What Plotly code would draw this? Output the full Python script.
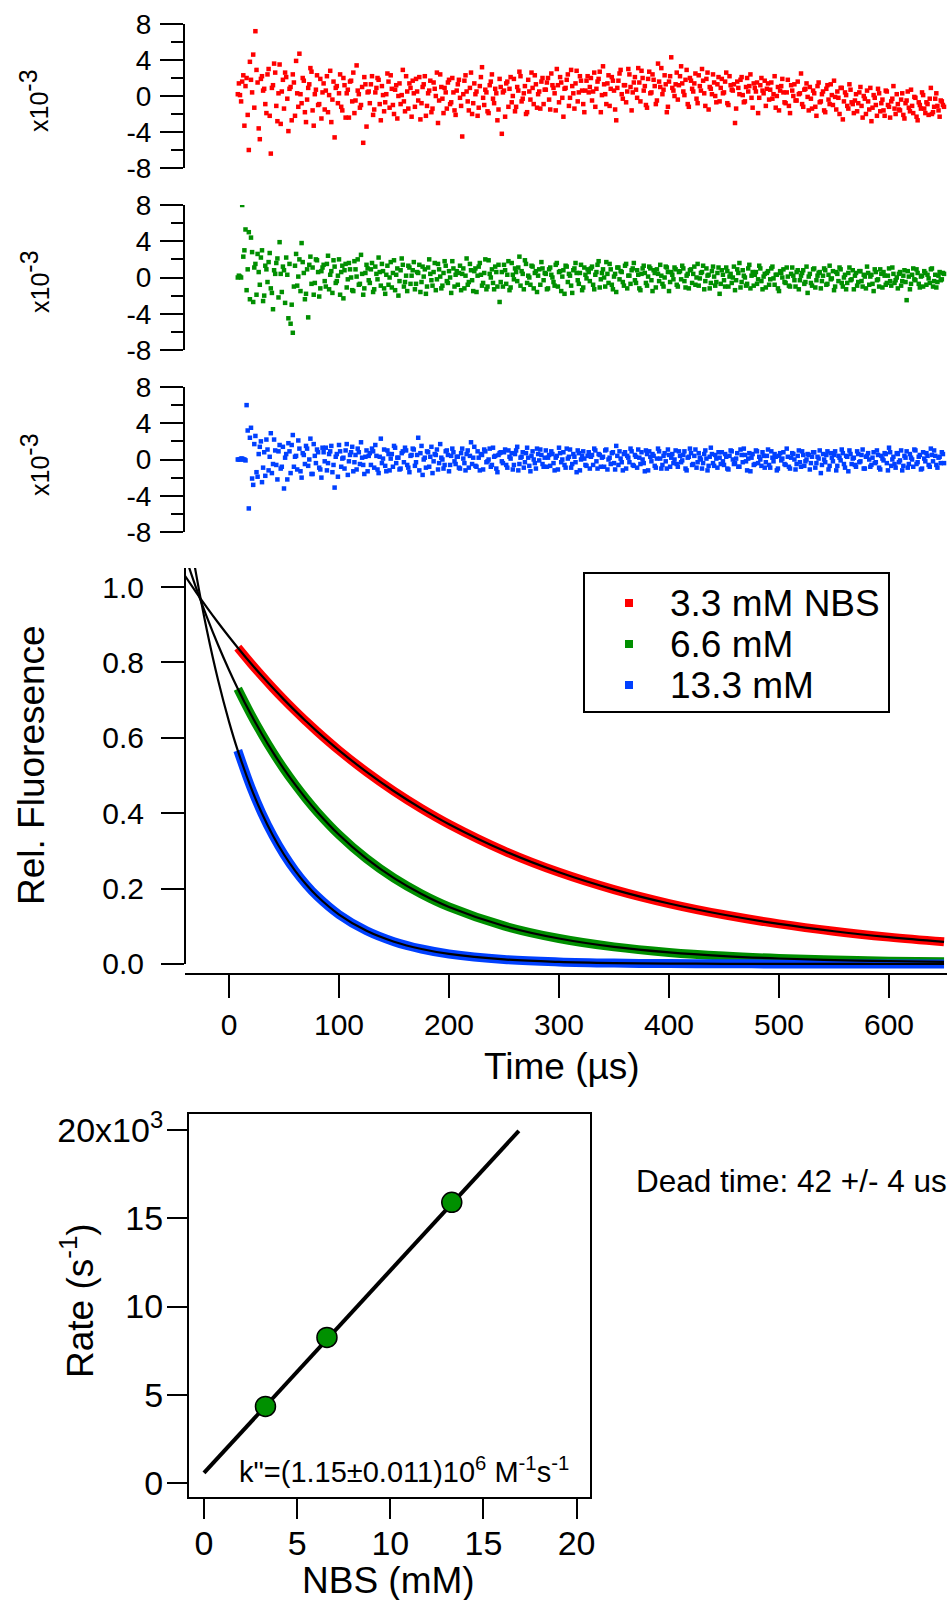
import plotly.graph_objects as go

W, H = 947, 1600
FONT = "Liberation Sans, Arial, sans-serif"

# ---------------- data ----------------
# residuals (units of 1e-3); "even" samples at 8,10,12,... us, "odd" samples at 9,11,13,... us
res_t0_even = 8
res_t0_odd = 9
res_dt = 2
res_red_even = [
    0.2, 0.1, 1.6, -3.3, 2.0, -6.0, 1.8, 4.6, 7.2, 1.5, -4.8, 2.2, 0.8, -1.9, 3.0, -6.4, 1.2, 2.6, -2.8, 3.5,
    0.5, -1.4, 2.1, -3.9, 1.0, 2.4, -2.2, 0.3, 4.7, -0.8, 1.7, -2.9, 0.9, 3.1, -1.6, 0.2, 2.3, -0.9, -2.5, 1.4,
    0.6, -1.8, 2.8, -0.4, -4.6, 1.1, 0.3, -1.2, 2.0, -2.4, 0.7, 1.6, -0.6, -1.9, 3.4, 0.2, -1.0, -5.2, 1.3, 0.4,
    -0.8, 2.2, -1.5, 0.9, 1.8, -2.7, 0.1, -0.7, 2.5, -1.3, 0.8, -2.0, 1.2, 0.0, -0.9, 2.9, -1.7, 0.5, 1.4, -2.3,
    0.3, 1.9, -0.5, -2.6, 1.0, 2.2, -1.1, 0.6, -1.8, 1.5, 0.0, -3.0, 2.4, -0.3, 0.9, -1.4, 1.8, -0.7, 0.4, -2.1,
    1.3, -0.2, -4.5, 1.7, 0.5, -1.6, 2.6, -0.8, 0.2, -2.2, 1.1, 3.2, -1.0, 0.4, -1.9, 1.6, -0.3, 0.8, -2.7, 1.9,
    -4.2, 0.6, 1.4, -1.2, 2.1, 0.0, -1.7, 1.0, 2.7, -0.6, 0.3, -2.0, 1.8, -0.4, 0.9, 2.3, -1.3, 0.5, 1.6, -0.9,
    0.7, 2.0, -1.5, 1.2, 0.3, 3.0, -0.7, 1.5, -2.3, 0.9, 2.4, -0.2, 1.1, -1.4, 2.8, 0.4, 1.7, -0.9, 0.6, 2.2,
    1.0, -0.5, 2.6, 0.8, 1.9, -1.8, 3.3, 0.2, 1.4, -1.1, 2.1, 0.6, -2.7, 1.7, 2.9, -0.3, 1.2, 0.5, 2.4, -1.6,
    1.5, 0.7, 3.1, -0.6, 2.0, 1.1, -1.3, 2.7, 0.4, 1.8, -0.9, 3.6, 1.0, 0.2, 2.3, -1.8, 1.6, 4.3, 0.6, 1.3,
    -0.4, 2.2, 1.4, 0.1, 2.9, -1.2, 1.7, 0.5, 2.5, -0.8, 1.1, 3.0, 0.3, 1.9, -1.5, 0.8, 2.4, 0.0, 1.3, -0.6,
    1.9, 0.4, 2.6, -1.0, 1.2, 0.6, -3.0, 1.6, 0.2, 2.1, -0.7, 1.0, 0.5, 2.4, -1.3, 0.9, 1.5, -0.2, 2.0, 0.3,
    -1.1, 1.4, 0.7, -0.3, 2.2, 0.0, -1.6, 1.1, 0.4, -0.8, 1.8, -1.9, 0.6, 1.3, -0.5, 0.2, 2.5, -1.2, 0.8, -0.1,
    1.0, -1.4, 0.3, -2.2, 1.5, -0.6, 0.5, -1.8, 1.2, -0.9, 0.1, 1.7, -1.5, -0.2, 0.9, -2.6, 0.4, -1.1, 1.3, -0.7,
    -1.9, 0.2, -0.8, 1.0, -2.4, -0.3, 0.6, -1.5, -2.8, 0.1, -1.0, 0.8, -1.7, -0.4, -2.2, 0.5, -1.2, -0.6, 1.1, -2.0,
    -0.9, -1.6, 0.3, -2.5, -0.5, -1.3, 0.7, -1.9, -0.2, -2.7, -1.0, 0.4, -1.4, -0.7, -2.1, 0.9, -1.8, -0.3, -1.1, -2.3,
    -0.6, -1.2,
]
res_red_odd = [
    1.4, -0.6, 2.3, 1.1, -2.1, 3.8, 0.4, -1.3, 2.9, -3.6, 1.9, 0.6, -0.9, 2.4, -2.2, 0.9, 3.6, -1.1, 0.3, -3.1,
    1.8, 2.6, -0.3, 0.8, -2.7, 1.5, 3.9, -1.2, 0.2, 2.0, -1.8, -0.4, 1.3, 2.7, -3.3, 0.7, -1.0, 1.9, 0.4, -1.5,
    2.2, 0.1, -2.9, 1.6, 0.9, -0.8, 2.4, -1.6, 1.2, 0.3, -2.4, 1.7, 2.6, -0.5, 0.6, -1.3, 1.0, 2.1, -3.4, 0.5,
    1.3, -2.1, 0.4, 2.0, -0.9, 1.1, -1.7, 0.2, 1.6, 2.3, -1.0, 0.7, -2.5, 1.4, 0.1, -0.6, 2.2, -1.4, 0.9, 1.7,
    -1.2, 0.5, 2.1, -0.8, 1.3, -2.2, 0.3, 1.7, -1.4, 0.8, 2.6, -0.5, 1.0, -1.9, 0.4, 1.5, -0.9, 2.0, -1.6, 0.6,
    1.8, -1.1, 0.2, 2.3, -0.6, 0.9, -2.0, 1.4, 0.5, -1.3, 2.1, -0.2, 0.7, -1.7, 1.2, 2.4, -0.8, 0.3, -1.5, 1.0,
    0.4, -2.3, 1.6, 0.8, -0.7, 1.9, -1.2, 0.6, 2.2, -0.3, 1.1, -1.8, 0.5, 2.6, -0.9, 1.3, 0.2, -1.4, 2.0, 0.7,
    1.5, -0.4, 2.5, 0.9, -1.6, 1.2, 2.1, -0.2, 0.8, 1.8, -1.1, 2.9, 0.3, 1.4, -0.6, 2.2, 0.6, -1.8, 1.7, 0.4,
    2.0, 0.5, -1.2, 1.6, 2.7, 0.1, 1.3, -0.9, 2.3, 0.8, 1.7, -1.5, 0.9, 2.5, 0.2, 1.2, -0.7, 3.0, 1.0, 0.4,
    2.1, -0.2, 1.5, 2.8, 0.6, -1.0, 1.9, 0.3, 2.4, 1.1, -0.5, 1.6, 3.1, 0.7, 1.3, -1.2, 2.2, 0.9, 0.0, 2.6,
    1.2, 3.3, 0.5, 1.8, -0.9, 2.0, 0.8, 1.4, -0.3, 2.3, 0.6, 1.7, -1.1, 2.6, 1.0, 0.2, 1.5, -0.7, 2.1, 0.9,
    0.3, 1.6, -0.8, 2.2, 0.7, 1.3, -1.4, 0.9, 1.8, 0.1, -0.6, 2.0, 1.1, -0.2, 1.4, 0.5, -1.9, 1.2, 0.6, 1.7,
    0.8, -0.4, 1.5, 0.2, -1.3, 1.0, 0.6, 1.9, -0.7, 0.4, -1.1, 1.2, 0.0, -0.5, 1.6, 0.3, -0.9, 0.7, 1.4, -1.6,
    -0.3, 0.6, -1.2, 1.1, -0.7, 0.2, -1.6, 0.8, -0.4, 1.3, -1.0, -0.1, 0.5, -2.0, 0.9, -0.6, 0.1, -1.4, 0.7, -0.9,
    -0.5, -1.7, 0.4, -1.1, 0.0, -2.0, -0.6, 0.9, -1.3, -0.2, -2.2, 0.3, -0.8, -1.6, 0.6, -1.0, -2.4, -0.3, -1.4, 0.2,
    -1.5, -0.4, -2.1, -0.8, 0.5, -1.7, -1.1, -0.1, -2.3, -0.7, -1.4, 0.1, -1.9, -0.9, -0.3, -2.0, -1.2, 0.3, -1.6, -0.5,
    -1.0,
]
res_green_even = [
    0.0, 0.1, 8.0, 3.0, -1.4, 5.0, 4.4, -2.7, 1.5, 2.6, -0.8, 3.0, -2.0, 0.9, 1.7, -1.2, -3.5, 0.4, 2.1, 3.9,
    -1.6, 0.8, 2.2, -4.5, -5.1, -6.1, 1.3, -0.9, 2.0, 3.8, 0.5, -1.8, -4.4, 2.3, 1.1, -0.6, 1.9, -2.1, 0.7, 1.4,
    -1.0, 2.4, 0.3, -1.7, 1.2, -0.4, 2.0, 0.6, -2.3, 1.5, -0.2, 0.9, -1.4, 1.8, 0.1, -0.8, 2.5, -1.9, 0.5, 1.0,
    -0.6, 1.6, -1.3, 0.4, 2.2, -0.9, 0.7, -1.8, 1.3, 0.0, -1.1, 1.9, 0.3, -2.0, 0.8, 1.4, -0.5, -1.5, 1.1, 0.2,
    1.7, -0.7, 0.5, -1.6, 1.2, 0.9, -1.0, 2.0, -0.3, 0.6, -1.4, 1.5, 0.1, -0.9, 1.8, -0.4, 0.7, -1.7, 1.0, 0.3,
    -0.8, 1.3, 0.4, -1.2, 2.1, -0.5, 0.8, -1.5, 1.0, 0.2, 1.6, -0.9, 0.5, -1.3, 1.9, 0.0, -0.6, 1.2, -1.0, -2.7,
    0.6, 1.4, -0.7, 1.8, -1.1, 0.3, 1.0, -0.4, 2.3, 0.7, -1.3, 1.5, 0.2, -0.8, 1.2, 0.5, -1.6, 0.9, 1.7, -0.3,
    0.4, -1.2, 1.1, 0.0, -0.9, 1.6, 0.6, -1.5, 0.8, 1.3, -0.5, 0.2, -1.7, 1.0, 0.5, -0.7, 1.4, -1.1, 0.3, 0.9,
    -0.4, 1.2, -1.3, 0.6, 1.8, -0.2, 0.9, -1.0, 0.4, 1.5, -0.8, 0.1, -1.6, 1.1, 0.7, -0.5, 1.3, -1.2, 0.2, 0.8,
    1.6, -0.6, 0.3, -1.4, 1.0, 0.5, -0.9, 1.2, -0.3, 0.8, -1.1, 0.4, 1.4, -0.7, 0.0, 1.1, -1.5, 0.6, -0.2, 0.9,
    -1.0, 0.7, 1.3, -0.4, 0.2, -1.2, 0.9, 0.4, -0.8, 1.5, -0.1, 0.6, -1.3, 1.0, 0.3, -0.6, 1.2, -0.9, 0.5, -1.8,
    0.8, -0.3, 1.1, -1.0, 0.4, 0.0, -1.4, 0.9, 1.6, -0.5, 0.2, -0.9, 1.0, -1.2, 0.6, 0.3, -0.7, 1.3, -0.4, 0.1,
    -1.1, 0.7, -0.2, 1.2, -0.8, 0.3, -1.5, 0.5, 0.9, -0.6, 0.1, -1.0, 1.1, -0.3, 0.6, -1.3, 0.2, 0.8, -0.5, -1.7,
    0.4, -0.9, 1.0, -0.3, 0.5, -1.2, 0.2, 0.8, -0.7, 1.3, -0.1, -1.4, 0.6, -0.4, 0.9, -1.0, 0.3, -0.6, 1.1, -0.2,
    -1.3, 0.5, -0.5, 0.7, -1.0, 0.1, 1.2, -0.8, 0.3, -1.5, 0.6, -0.2, 0.9, -1.1, 0.2, -0.6, 1.0, -0.9, 0.4, -0.3,
    -1.2, 0.6, -0.4, 0.8, -2.5, 0.1, -0.7, 1.0, -0.3, 0.5, -1.1, 0.2, 0.7, -0.8, -0.1, 0.9, -1.0, 0.3, -0.5, 0.6,
    -0.2, 0.4,
]
res_green_odd = [
    0.2, 0.0, 2.3, 5.3, 0.9, -2.4, 2.8, 1.1, -1.9, 0.6, 2.2, -2.6, 1.3, -0.5, 2.7, -1.7, 0.8, 1.6, -2.2, 0.4,
    1.2, -2.8, 0.3, 1.5, -3.0, -1.0, 2.6, 0.1, -1.5, 1.7, -2.4, 0.9, 1.4, -0.7, -1.9, 2.0, 0.6, -1.2, 1.1, -0.4,
    1.5, -1.3, 0.7, 1.9, -0.6, 0.2, -1.9, 1.3, 0.8, -1.1, 1.6, 0.0, -1.5, 0.9, 2.0, -0.7, 0.4, -1.2, 1.4, -0.3,
    0.9, -1.6, 1.2, -0.2, 0.6, 1.5, -1.2, 0.3, -0.8, 1.7, 0.5, -1.4, 1.0, -0.4, 2.1, -1.0, 0.2, 1.3, -0.7, 0.8,
    -1.3, 0.6, 1.4, -0.5, 0.1, -1.8, 1.1, 0.4, -0.9, 1.6, -0.2, 0.9, -1.2, 0.5, 1.3, -0.6, 0.0, 1.8, -1.0, 0.7,
    0.5, -1.4, 1.0, 0.2, -0.8, 1.5, -0.3, 0.7, -1.6, 1.2, 0.3, -0.6, 2.0, -1.0, 0.4, 0.9, -1.3, 0.6, 1.4, -0.5,
    -1.0, 0.8, 0.3, -1.4, 1.6, -0.2, 0.6, 1.1, -0.9, 0.4, 1.9, -0.6, 0.0, 1.3, -1.2, 0.7, 0.2, -0.8, 1.0, 0.5,
    -1.3, 0.9, 0.3, -0.5, 1.4, -1.0, 0.7, 0.1, -1.8, 1.2, 0.4, -0.9, 0.8, 1.6, -0.3, 0.5, -1.4, 1.1, -0.1, 0.6,
    1.0, -0.8, 0.3, 1.4, -1.1, 0.5, 0.0, 1.7, -0.6, 0.9, -1.3, 0.4, 1.1, -0.2, 0.6, -0.9, 1.5, 0.2, -0.7, 1.0,
    -0.3, 0.8, -1.2, 0.4, 1.3, -0.6, 0.1, 1.0, -1.5, 0.5, 0.9, -0.4, 0.2, -1.0, 1.2, 0.6, -0.5, 0.3, 1.1, -0.8,
    0.6, -0.2, 1.0, -1.1, 0.4, 0.8, -0.6, 1.2, 0.0, -0.9, 0.5, 1.3, -0.4, 0.2, -1.2, 0.7, 0.1, -0.5, 1.1, -0.7,
    0.3, -1.0, 0.7, 0.1, -0.6, 1.2, -0.3, 0.5, -1.1, 0.8, 0.0, -0.7, 1.4, 0.2, -0.9, 0.6, -0.2, 1.0, -1.3, 0.4,
    0.5, -0.8, 1.0, -0.1, 0.3, -1.2, 0.7, 0.0, -0.5, 1.1, -0.9, 0.4, 0.2, -1.0, 0.8, -0.3, 0.5, -0.7, 1.2, 0.1,
    -0.6, 0.9, -1.1, 0.2, 0.6, -0.4, 1.0, -0.8, 0.3, -0.2, 0.7, -1.0, 0.4, 1.1, -0.6, 0.0, -1.3, 0.5, -0.3, 0.8,
    0.2, -0.9, 0.7, -0.4, 0.3, -1.2, 0.5, 0.1, -0.7, 0.9, -0.3, -1.0, 0.4, 0.6, -0.8, 0.2, -0.4, 1.1, -0.6, 0.0,
    0.4, -0.9, 0.2, -0.5, 0.7, -1.3, 0.3, -0.2, 0.9, -0.7, 0.1, -1.0, 0.5, 0.3, -0.6, 1.0, -0.4, -1.1, 0.2, -0.3,
    0.5,
]
res_blue_even = [
    0.0, 0.0, 0.1, 0.0, 6.0, -5.4, 3.5, -2.8, 2.6, -1.9, 1.4, -2.5, 0.8, 2.2, -1.2, 2.9, -0.5, 1.0, -2.2, 1.6,
    -0.8, -3.2, 0.6, 1.8, -1.5, 2.7, 0.3, -1.1, 1.2, -2.0, 0.5, 1.5, -0.7, 2.3, -1.6, 0.4, 1.1, -0.9, -2.0, 0.8,
    1.3, -0.4, 0.9, -1.4, -3.1, 0.6, 1.6, -0.8, 0.2, 1.0, -1.7, 0.5, 1.4, -0.3, -1.1, 0.8, 1.9, -0.6, 0.3, -1.3,
    0.7, 1.2, -0.9, 0.4, -1.5, 2.3, 0.1, -0.7, 1.0, -1.2, 0.6, 1.5, -0.4, 0.2, -1.0, 0.9, 1.3, -0.6, -1.4, 0.5,
    1.1, -0.3, 2.4, 0.7, -1.7, 0.2, 0.9, -0.8, 1.4, -0.2, 0.5, -1.1, 1.7, 0.0, -0.6, 1.0, -1.3, 0.4, 0.8, -0.5,
    0.3, -1.0, 1.2, -0.4, 0.6, -0.9, 1.9, 0.2, -0.7, 0.9, -1.2, 0.5, 1.1, -0.3, 0.0, -0.8, 1.3, 0.4, -1.4, 0.7,
    -0.2, 0.8, -0.6, 1.0, 0.1, -1.1, 0.6, 1.4, -0.5, 0.3, -0.9, 0.7, 0.2, -1.3, 0.9, -0.4, 1.2, -0.1, 0.5, -0.8,
    1.0, 0.2, -0.7, 0.6, -1.2, 0.4, 1.3, -0.3, 0.8, -0.9, 0.1, 1.1, -0.5, 0.3, -1.4, 0.7, 0.0, 0.9, -0.6, 0.4,
    -1.0, 0.5, 1.2, -0.2, 0.6, -0.8, 0.3, 1.0, -1.1, 0.2, 0.7, -0.4, 1.5, -0.6, 0.1, -1.2, 0.8, 0.4, -0.3, 0.9,
    -0.7, 0.3, 1.1, -0.5, 0.0, -1.3, 0.6, 0.9, -0.2, 0.4, -0.9, 1.2, 0.1, -0.6, 0.7, -1.0, 0.5, 0.2, -0.4, 1.0,
    -0.8, 0.4, -0.1, 0.9, -1.2, 0.3, 0.7, -0.5, 1.1, -0.3, 0.2, -1.0, 0.6, 0.1, -0.7, 1.3, -0.4, 0.5, -0.9, 0.2,
    0.8, -0.6, 0.3, -1.1, 1.0, 0.0, -0.4, 0.7, -0.8, 0.5, 1.2, -0.2, 0.1, -1.3, 0.6, -0.5, 0.9, 0.3, -0.7, 0.4,
    -0.3, 1.1, -0.9, 0.2, 0.6, -1.2, 0.4, -0.1, 0.8, -0.6, 0.3, -1.0, 0.7, 0.0, -0.5, 1.0, -0.8, 0.5, -0.2, 0.6,
    -1.1, 0.3, 0.8, -0.4, 0.1, -1.5, 0.6, -0.3, 0.9, -0.7, 0.2, 0.5, -1.2, 0.4, -0.1, 0.7, -0.9, 0.3, 1.0, -0.5,
    0.2, -0.8, 0.6, -0.2, 1.1, -1.0, 0.4, 0.0, -0.6, 0.8, -0.3, 0.5, -1.1, 0.1, 0.7, -0.4, 1.3, -0.7, 0.3, -0.9,
    0.6, -0.1, -1.2, 0.4, 0.9, -0.5, 0.2, -0.8, 1.0, -0.3, 0.5, -1.0, 0.1, 0.7, -0.6, 1.2, -0.2, 0.4, -0.9, 0.3,
    0.8, -0.4,
]
res_blue_odd = [
    0.0, 0.1, 0.0, -0.1, 3.2, 2.4, -2.1, 1.7, -1.4, 0.6, 2.0, -0.9, -1.8, 1.1, 0.3, -1.5, 2.2, -0.6, 0.9, -1.0,
    1.4, 0.2, -2.2, 0.9, 1.6, -0.8, 0.4, 2.1, -1.3, 0.7, -0.5, 1.2, 0.0, -1.6, 1.7, -0.4, 0.8, -1.1, 1.3, -0.2,
    -1.2, 0.6, 1.5, -0.6, 0.3, -1.9, 0.9, 0.1, -1.0, 1.7, -0.2, 0.8, -1.3, 0.5, 1.2, -0.5, 0.2, -1.6, 1.0, 0.4,
    -0.6, 0.9, 1.6, -1.1, 0.3, -0.4, 1.1, -1.3, 0.6, 0.1, -0.8, 1.3, 0.2, -1.1, 0.7, -0.3, 1.0, -0.9, 0.4, 1.2,
    -0.7, 0.5, -1.2, 1.5, 0.0, -0.9, 0.8, 0.3, -1.5, 0.6, 1.1, -0.4, 0.2, -1.0, 0.9, 0.5, -0.6, 1.2, -0.2, 0.3,
    -0.9, 0.7, 0.1, -1.2, 1.0, 0.4, -0.5, 1.4, -0.8, 0.2, 0.6, -1.1, 0.9, -0.2, 1.2, -0.6, 0.3, -1.0, 0.5, 0.8,
    -0.4, 1.1, -0.9, 0.3, 0.7, -0.6, 1.0, -1.2, 0.2, 0.8, -0.3, 1.3, -0.7, 0.4, 0.0, -1.0, 0.6, 1.1, -0.5, 0.2,
    -0.8, 0.5, 0.9, -0.4, 0.2, -1.1, 0.7, 0.0, -0.6, 1.2, 0.3, -0.9, 0.6, -0.3, 1.0, -1.2, 0.4, 0.1, -0.7, 0.8,
    0.3, -0.6, 1.0, -1.0, 0.5, 0.2, -0.8, 1.1, 0.0, -0.5, 0.8, -1.1, 0.4, 0.9, -0.3, 0.6, -1.0, 0.2, 1.2, -0.6,
    0.5, -0.9, 0.2, 0.8, -0.4, 1.0, -1.2, 0.3, 0.6, -0.7, 0.1, 0.9, -1.0, 0.4, -0.2, 1.1, -0.8, 0.6, 0.0, -0.5,
    0.9, -0.3, 0.5, -1.0, 0.2, 1.2, -0.6, 0.4, -0.9, 0.7, 0.0, -0.4, 1.0, -1.2, 0.3, 0.6, -0.7, 0.1, 0.8, -0.5,
    -0.2, 0.6, -1.0, 0.4, 0.9, -0.5, 0.1, -0.8, 1.1, -0.3, 0.5, -1.2, 0.7, 0.2, -0.6, 1.0, -0.4, 0.0, 0.8, -0.9,
    0.4, -0.6, 0.9, -0.2, 0.3, -1.0, 0.7, 0.1, -0.5, 1.2, -0.8, 0.2, 0.6, -1.1, 0.4, -0.3, 0.9, -0.7, 0.0, 0.5,
    -0.4, 0.8, -0.9, 0.3, 1.0, -0.6, 0.0, 0.5, -1.1, 0.7, -0.2, 0.9, -0.7, 0.2, 1.1, -0.5, 0.4, -1.3, 0.6, 0.1,
    -0.6, 0.9, -0.3, 0.5, -1.0, 0.3, 0.7, -0.8, 0.2, -0.4, 1.0, -0.9, 0.4, -0.1, 0.6, -1.2, 0.8, 0.0, -0.5, 0.7,
    -0.3, 1.0, -0.7, 0.2, -0.9, 0.6, 0.0, 1.1, -0.5, 0.3, -1.1, 0.8, -0.2, 0.4, -0.8, 0.5, 1.0, -0.6, 0.2, -0.4,
    0.6,
]

# decay curves (relative fluorescence) read at these times (us)
curve_t = [-40, -30, -20, -10, 0, 8, 20, 30, 40, 50, 60, 70, 80, 100, 125, 150, 175, 200,
           250, 300, 350, 400, 450, 500, 550, 600, 650]
curve_red = [1.0298, 0.9867, 0.9454, 0.9058, 0.8680, 0.8389, 0.7970, 0.7637, 0.7318, 0.7012,
             0.6720, 0.6440, 0.6171, 0.5667, 0.5096, 0.4583, 0.4122, 0.3708, 0.3002, 0.2433,
             0.1974, 0.1604, 0.1305, 0.1064, 0.0869, 0.0713, 0.0587]
curve_green = [1.0842, 0.9985, 0.9196, 0.8469, 0.7800, 0.7303, 0.6617, 0.6095, 0.5613, 0.5170,
               0.4763, 0.4387, 0.4041, 0.3429, 0.2794, 0.2277, 0.1857, 0.1514, 0.1009, 0.0675,
               0.0453, 0.0307, 0.0210, 0.0146, 0.0103, 0.0075, 0.0057]
curve_blue = [1.2146, 1.0361, 0.8837, 0.7538, 0.6430, 0.5662, 0.4678, 0.3990, 0.3404, 0.2904,
              0.2477, 0.2113, 0.1802, 0.1311, 0.0881, 0.0592, 0.0398, 0.0267, 0.0121, 0.0055,
              0.0024, 0.0011, 0.0005, 0.0002, 0.0001, 0.0000, 0.0000]
data_start_t = 8

series_names = ["3.3 mM NBS", "6.6 mM", "13.3 mM"]
series_colors = ["#ff0000", "#008f00", "#0040ff"]

# rate vs concentration
nbs_mM = [3.3, 6.6, 13.3]
rate_per_s = [4340, 8250, 15900]
fit_nbs = [0, 16.9]
fit_rate = [570, 19950]

# ---------------- helpers ----------------
def px(x):
    return x / W

def py(y):
    return 1 - y / H

fig = go.Figure()

# residual panels
res_axes = ["y", "y2", "y3"]
res_sets = [(res_red_even, res_red_odd), (res_green_even, res_green_odd),
            (res_blue_even, res_blue_odd)]
for (ev, od), col, ya in zip(res_sets, series_colors, res_axes):
    t = [res_t0_even + i * res_dt for i in range(len(ev))] + \
        [res_t0_odd + i * res_dt for i in range(len(od))]
    fig.add_trace(go.Scatter(x=t, y=ev + od, mode="markers", xaxis="x", yaxis=ya,
                             marker=dict(symbol="square", size=4.5, color=col, line=dict(width=0)),
                             showlegend=False, hoverinfo="skip"))

# main decay plot: data bands then fits
for vals, col in zip([curve_red, curve_green, curve_blue], series_colors):
    bt = [t for t in curve_t if t >= data_start_t]
    bv = [v for t, v in zip(curve_t, vals) if t >= data_start_t]
    fig.add_trace(go.Scatter(x=bt, y=bv, mode="lines", xaxis="x2", yaxis="y4",
                             line=dict(color=col, width=9, shape="spline"),
                             showlegend=False, hoverinfo="skip"))
for vals in [curve_red, curve_green, curve_blue]:
    fig.add_trace(go.Scatter(x=curve_t, y=vals, mode="lines", xaxis="x2", yaxis="y4",
                             line=dict(color="black", width=2.2, shape="spline"),
                             showlegend=False, hoverinfo="skip"))

# rate plot
fig.add_trace(go.Scatter(x=fit_nbs, y=fit_rate, mode="lines", xaxis="x3", yaxis="y5",
                         line=dict(color="black", width=4), showlegend=False, hoverinfo="skip"))
fig.add_trace(go.Scatter(x=nbs_mM, y=rate_per_s, mode="markers", xaxis="x3", yaxis="y5",
                         marker=dict(symbol="circle", size=20, color="#009000",
                                     line=dict(color="black", width=1.5)),
                         showlegend=False, hoverinfo="skip"))

tick_font_res = dict(family=FONT, size=28, color="black")
tick_font = dict(family=FONT, size=30, color="black")
tick_font_low = dict(family=FONT, size=34, color="black")

def res_yaxis(top, bottom):
    return dict(domain=[py(bottom), py(top)], range=[-8, 8], anchor="x",
                showline=True, linewidth=2, linecolor="black",
                ticks="outside", ticklen=23, tickwidth=2, tickcolor="black",
                tickvals=[-8, -4, 0, 4, 8], ticktext=["-8", "-4", "0", "4", "8"],
                minor=dict(tickvals=[-6, -2, 2, 6], ticklen=12, tickwidth=2,
                           tickcolor="black", ticks="outside"),
                tickfont=tick_font_res, showgrid=False, zeroline=False,
                ticklabelstandoff=3, automargin=False)

x_lo, x_hi = -40, 652.7
layout = dict(
    width=W, height=H, autosize=False,
    margin=dict(l=0, r=0, t=0, b=0, pad=0, autoexpand=False),
    paper_bgcolor="white", plot_bgcolor="white",
    showlegend=False,
    font=dict(family=FONT, color="black"),
    xaxis=dict(domain=[px(185), 1.0], range=[x_lo, x_hi], anchor="y", visible=False,
               automargin=False),
    yaxis=res_yaxis(24, 168),
    yaxis2=res_yaxis(205, 350),
    yaxis3=res_yaxis(387, 532),
    xaxis2=dict(domain=[px(185), 1.0], range=[x_lo, x_hi], anchor="y4",
                showline=True, linewidth=2, linecolor="black",
                ticks="outside", ticklen=23, tickwidth=2, tickcolor="black",
                tickvals=[0, 100, 200, 300, 400, 500, 600],
                tickfont=tick_font, showgrid=False, zeroline=False, ticklabelstandoff=1,
                automargin=False),
    yaxis4=dict(domain=[py(973), py(568)], range=[-0.0239, 1.0504], anchor="x2",
                showline=False,
                ticks="outside", ticklen=23, tickwidth=2, tickcolor="black",
                tickvals=[0, 0.2, 0.4, 0.6, 0.8, 1.0],
                ticktext=["0.0", "0.2", "0.4", "0.6", "0.8", "1.0"],
                tickfont=tick_font, showgrid=False, zeroline=False, ticklabelstandoff=11,
                automargin=False),
    xaxis3=dict(domain=[px(189), px(590)], range=[-0.805, 20.72], anchor="y5",
                showline=True, mirror=True, linewidth=2, linecolor="black",
                ticks="outside", ticklen=20, tickwidth=2, tickcolor="black",
                tickvals=[0, 5, 10, 15, 20],
                tickfont=tick_font_low, showgrid=False, zeroline=False, ticklabelstandoff=0,
                automargin=False),
    yaxis5=dict(domain=[py(1497), py(1114)], range=[-793, 20906], anchor="x3",
                showline=True, mirror=True, linewidth=2, linecolor="black",
                ticks="outside", ticklen=20, tickwidth=2, tickcolor="black",
                tickvals=[0, 5000, 10000, 15000, 20000],
                ticktext=["0", "5", "10", "15", "20x10<sup>3</sup>"],
                tickfont=tick_font_low, showgrid=False, zeroline=False, ticklabelstandoff=0,
                automargin=False),
)
fig.update_layout(**layout)
# pull the rate-plot labels a little closer to their ticks
try:
    fig.update_layout(yaxis5=dict(ticklabelstandoff=-3), xaxis3=dict(ticklabelstandoff=-5))
except ValueError:
    pass

shapes = []
# main y axis line (stops at 0.0, x axis sits slightly below)
shapes.append(dict(type="line", xref="paper", yref="y4", x0=px(185), x1=px(185),
                   y0=0, y1=1.0504, line=dict(color="black", width=2)))
# legend box and keys
shapes.append(dict(type="rect", xref="paper", yref="paper", x0=px(584), x1=px(889),
                   y0=py(712), y1=py(573), line=dict(color="black", width=2),
                   fillcolor="white", layer="above"))
annotations = []
legend_rows = [603, 644, 685]
for name, col, yy in zip(series_names, series_colors, legend_rows):
    shapes.append(dict(type="rect", xref="paper", yref="paper",
                       x0=px(625), x1=px(633), y0=py(yy + 4), y1=py(yy - 4),
                       line=dict(width=0), fillcolor=col, layer="above"))
    annotations.append(dict(text=name, xref="paper", yref="paper", x=px(668), y=py(yy),
                            xanchor="left", yanchor="middle", showarrow=False,
                            font=dict(family=FONT, size=37, color="black")))

def ann(text, x, y, size, angle=0, xanchor="center"):
    annotations.append(dict(text=text, xref="paper", yref="paper", x=px(x), y=py(y),
                            xanchor=xanchor, yanchor="middle", showarrow=False,
                            textangle=angle,
                            font=dict(family=FONT, size=size, color="black")))

for yc in [101, 282, 465]:
    ann("x10<sup><span style=\"font-size:25px\">-3</span></sup>", 34, yc, 25, angle=-90)
ann("Rel. Fluoresence", 31, 765, 37, angle=-90)
ann("Time (\u00b5s)", 562, 1066, 37)
ann("Rate (s<sup>-1</sup>)", 77, 1301, 37, angle=-90)
ann("NBS (mM)", 388, 1580, 37)
ann("Dead time: 42 +/- 4 us", 634, 1181, 31.5, xanchor="left")
ann("k\"=(1.15\u00b10.011)10<sup>6</sup> M<sup>-1</sup>s<sup>-1</sup>", 404, 1470, 29)

fig.update_layout(shapes=shapes, annotations=annotations)
fig.write_html("out.html")
